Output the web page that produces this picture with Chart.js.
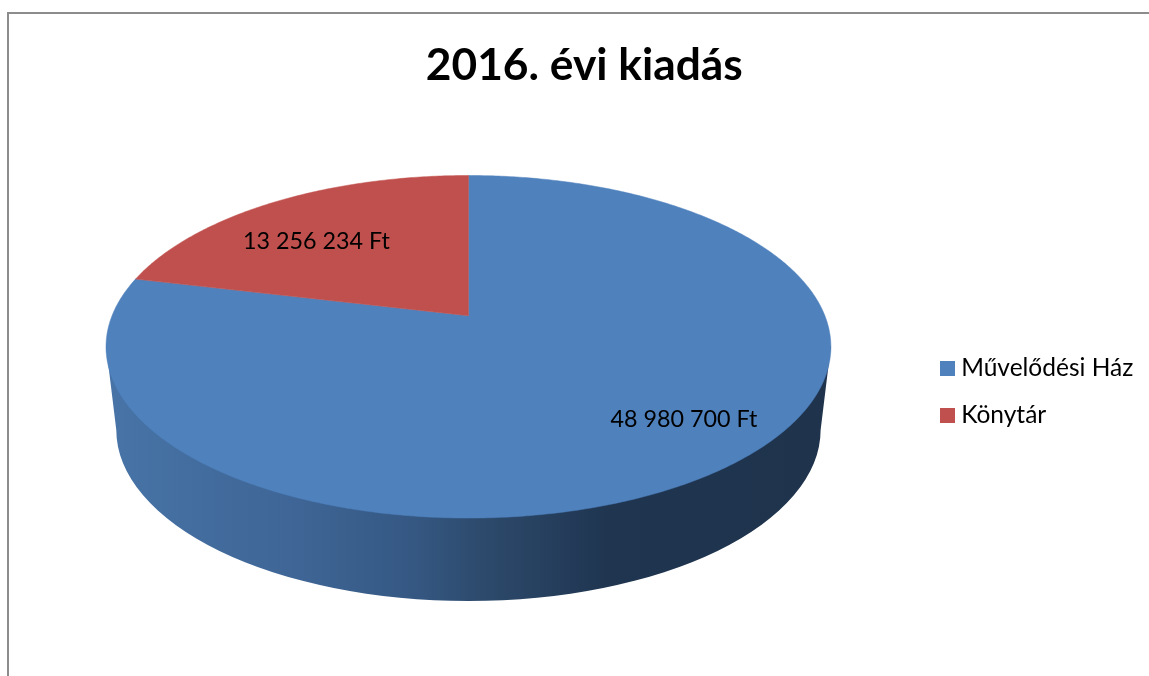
<!doctype html>
<html lang="hu">

<head>
    <meta charset="utf-8" />
    <title>2016. évi kiadás</title>
    <script src="https://cdn.jsdelivr.net/npm/chart.js"></script>
    <style>
        body { margin: 0; background: #fff; overflow: hidden; }
        #frame { position: absolute; left: 7px; top: 12px; right: 0; bottom: 0; border-left: 2px solid #8c8c8c; border-top: 2px solid #8c8c8c; }
        #chartCost { position: absolute; left: 0; top: 0; }
    </style>
</head>

<body>
    <div id="frame"></div>
    <canvas id="chartCost" width="1149" height="676"></canvas>
    <script>
        const CHART_TITLE = '2016. évi kiadás';
        const CATEGORIES = ['Művelődési Ház', 'Könytár'];
        const VALUES = [48980700, 13256234];
        const COLORS = ['#4f81bd', '#c0504d'];

        // perspective of the tilted disc, relative to the pie radius
        const TILT = -0.181;
        const APEX_SHIFT = -0.176;
        const STRETCH_FACE = 2.083;
        const STRETCH_RIM = 2.118;
        const STRETCH_BASE = 2.058;
        const DEPTH = 84;
        // data labels: how far out along the mid angle, then a small vertical nudge
        const LABEL_REACH = [0.856, 0.762];
        const LABEL_NUDGE = [-23, 15];

        function formatFt(value) {
            return String(value).replace(/\B(?=(\d{3})+$)/g, ' ') + ' Ft';
        }

        function project(arc, t, angle) {
            const u = t * Math.cos(angle);
            const v = t * Math.sin(angle);
            const d = 1 + TILT * v;
            return {
                x: arc.x + arc.outerRadius * STRETCH_FACE * u / d,
                y: arc.y + arc.outerRadius * (v + APEX_SHIFT) / d
            };
        }

        // replaces the flat arc so the slice follows the tilted disc
        function drawTiltedArc(ctx) {
            const steps = Math.ceil((this.endAngle - this.startAngle) / 0.01);
            const apex = project(this, 0, 0);
            ctx.beginPath();
            ctx.moveTo(apex.x, apex.y);
            for (let i = 0; i <= steps; i++) {
                const a = this.startAngle + (this.endAngle - this.startAngle) * i / steps;
                const p = project(this, 1, a);
                ctx.lineTo(p.x, p.y);
            }
            ctx.closePath();
            ctx.fillStyle = this.options.backgroundColor;
            ctx.fill();
            // hides the light seam between neighbouring slices
            ctx.strokeStyle = this.options.backgroundColor;
            ctx.lineWidth = 0.5;
            ctx.stroke();
        }

        // legend square as an image, so the text can sit closer to it
        function legendSwatch(color) {
            const c = document.createElement('canvas');
            c.width = 15;
            c.height = 15;
            const g = c.getContext('2d');
            g.fillStyle = color;
            g.fillRect(0, 0, 15, 15);
            return c;
        }

        const tiltedPie = {
            id: 'tiltedPie',
            afterLayout(chart) {
                // legend sits lower than the middle of its box
                chart.legend.top += 133;
                chart.legend.bottom += 133;
                // title is centred over the frame, not the plot
                chart.titleBlock.left += 5.9;
                chart.titleBlock.right += 5.9;
            },
            beforeDatasetsDraw(chart) {
                const ctx = chart.ctx;
                const arcs = chart.getDatasetMeta(0).data;
                for (const arc of arcs) {
                    arc.draw = drawTiltedArc;
                }
                const first = arcs[0];
                const r = first.outerRadius;
                const grad = ctx.createLinearGradient(first.x - r * STRETCH_BASE, 0, first.x + r * STRETCH_BASE, 0);
                grad.addColorStop(0, '#4773a6');
                grad.addColorStop(0.26, '#3e6595');
                grad.addColorStop(0.42, '#355883');
                grad.addColorStop(0.52, '#2d4a6c');
                grad.addColorStop(0.7, '#1f3550');
                grad.addColorStop(1, '#1f334c');
                ctx.save();
                ctx.beginPath();
                ctx.moveTo(first.x - r * STRETCH_RIM, first.y);
                ctx.lineTo(first.x - r * STRETCH_BASE, first.y + DEPTH);
                ctx.ellipse(first.x, first.y + DEPTH, r * STRETCH_BASE, r, 0, Math.PI, 0, true);
                ctx.lineTo(first.x + r * STRETCH_RIM, first.y);
                ctx.closePath();
                ctx.fillStyle = grad;
                ctx.fill();
                ctx.restore();
            },
            afterDatasetsDraw(chart) {
                const ctx = chart.ctx;
                ctx.save();
                ctx.font = '23.3px Lato';
                ctx.fillStyle = '#000';
                ctx.textAlign = 'center';
                ctx.textBaseline = 'middle';
                chart.getDatasetMeta(0).data.forEach((arc, i) => {
                    const p = project(arc, LABEL_REACH[i], (arc.startAngle + arc.endAngle) / 2);
                    ctx.fillText(formatFt(VALUES[i]), p.x, p.y + LABEL_NUDGE[i]);
                });
                ctx.restore();
            }
        };

        new Chart(document.getElementById('chartCost'), {
            type: 'pie',
            data: {
                labels: CATEGORIES,
                datasets: [{ data: VALUES, backgroundColor: COLORS, borderWidth: 0 }]
            },
            plugins: [tiltedPie],
            options: {
                responsive: false,
                animation: false,
                layout: { padding: { left: 13.5, right: 5.75, top: 0, bottom: 159 } },
                plugins: {
                    title: {
                        display: true,
                        text: CHART_TITLE,
                        color: '#000',
                        font: { family: 'Lato', size: 44.3, weight: 'bold' },
                        padding: { top: 39, bottom: 82.6 }
                    },
                    legend: {
                        position: 'right',
                        labels: {
                            color: '#000',
                            font: { family: 'Lato', size: 24.5 },
                            usePointStyle: true,
                            pointStyleWidth: 3,
                            boxHeight: 15,
                            padding: 22.5,
                            generateLabels(chart) {
                                const items = Chart.overrides.doughnut.plugins.legend.labels.generateLabels(chart);
                                return items.map((item, i) => ({ ...item, pointStyle: legendSwatch(COLORS[i]) }));
                            }
                        }
                    },
                    tooltip: { enabled: false }
                }
            }
        });
    </script>
</body>

</html>
